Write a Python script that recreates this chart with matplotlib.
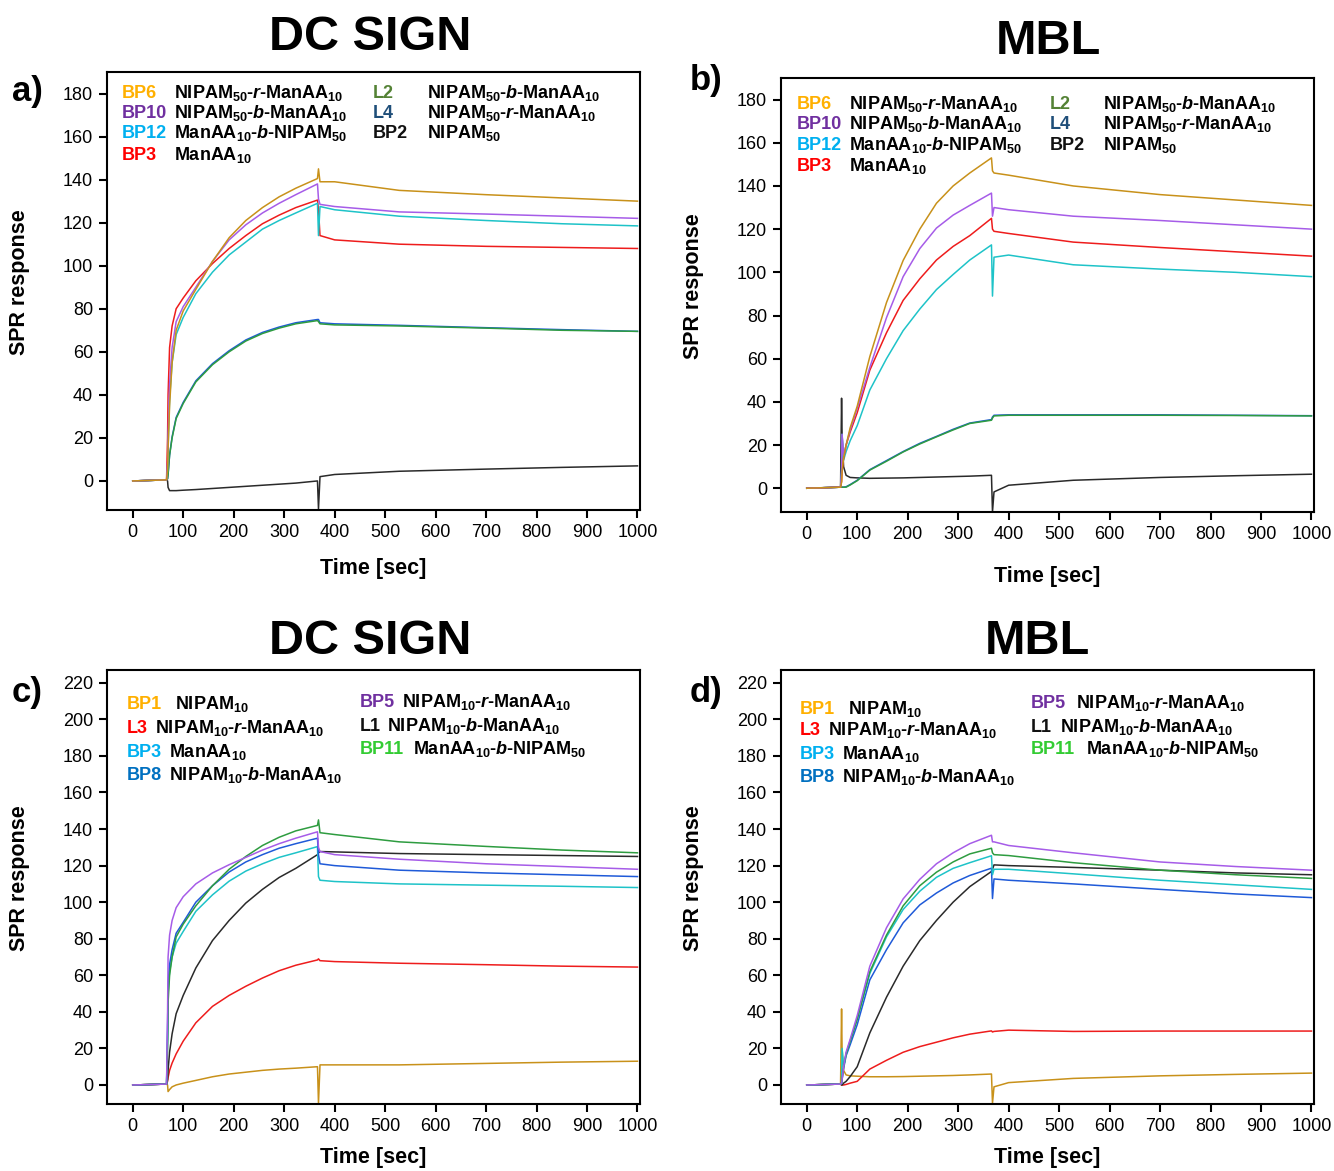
import matplotlib
matplotlib.use("Agg")
import matplotlib.pyplot as plt
from matplotlib import font_manager

# fonts: narrow face for titles / ticks if available
names = {f.name for f in font_manager.fontManager.ttflist}
narrow = 'Liberation Sans Narrow' if 'Liberation Sans Narrow' in names else 'Liberation Sans'
plt.rcParams['font.family'] = ['Liberation Sans', 'DejaVu Sans']
plt.rcParams['mathtext.fontset'] = 'custom'
plt.rcParams['mathtext.rm'] = 'Liberation Sans:bold'
plt.rcParams['mathtext.bf'] = 'Liberation Sans:bold'
plt.rcParams['mathtext.it'] = 'Liberation Sans:bold:italic'
plt.rcParams['mathtext.bfit'] = 'Liberation Sans:bold:italic'

# time axis (s), shared by all sensorgrams
t = [0, 67, 69, 70, 73, 78, 86, 100, 125, 158, 191, 224, 257, 290, 323,
     366, 368, 371, 400, 528, 700, 850, 1000]

# a) DC SIGN, 50-mers
a_BP6 = [0, 0.5, 5, 15, 35, 55, 70, 79, 89, 102, 113, 121, 127, 132, 136, 140.5, 145, 139, 139, 135, 133, 131.5, 130]
a_BP10 = [0, 0.5, 8, 20, 45, 62, 74, 81, 90, 102, 112, 119, 124.5, 129, 133, 138, 131, 128.5, 127.5, 125, 124, 123, 122]
a_BP3 = [0, 0.5, 20, 40, 62, 72, 80, 85, 93, 101, 108, 114, 119.5, 123.5, 127, 130.5, 126, 114, 112, 110, 109, 108.5, 108]
a_BP12 = [0, 0.5, 5, 15, 38, 55, 68, 76, 87, 97, 105, 111, 117, 121, 124.5, 129, 114, 127.5, 126, 123, 121, 119.5, 118.5]
a_L2 = [0, 0.5, 1, 3, 12, 20, 29, 36, 46, 54, 60, 65, 68.5, 71, 73, 74.5, 74, 73, 72.5, 72, 71, 70, 69.5]
a_L4 = [0, 0.5, 1, 3, 12, 20.5, 29.5, 36.5, 46.5, 54.5, 60.5, 65.5, 69, 71.5, 73.5, 75, 75, 73.5, 73, 72.3, 71.2, 70.3, 69.5]
a_BP2 = [0, 0.5, 0, -3, -4.5, -4.5, -4.5, -4.3, -4, -3.5, -3, -2.5, -2, -1.5, -1, 0, -13, 2, 3, 4.5, 5.5, 6.3, 7]

# b) MBL, 50-mers
b_BP6 = [0, 0.5, 3, 8, 14, 20, 28, 38, 61, 86, 105.5, 120, 132, 140, 146, 153, 147, 146, 145, 140, 136, 133.5, 131]
b_BP10 = [0, 0.5, 8, 25, 15, 20, 27, 37, 56, 79, 98, 111, 120.5, 126.5, 131, 136.7, 126, 130, 129, 126, 124, 122, 120]
b_BP3 = [0, 0.5, 3, 8, 14, 20, 26, 35, 54.7, 72, 87, 97, 105.7, 112, 117, 125, 120, 119, 118, 114, 111.5, 109.5, 107.5]
b_BP12 = [0, 0.5, 8, 25, 13, 17, 22, 29, 45.5, 60, 73, 83, 92, 99, 105.7, 112.7, 89, 107, 108, 103.5, 101.5, 100, 98]
b_L2 = [0, 0.5, 0.5, 0.5, 0.5, 0.5, 1.5, 3.5, 8.4, 12.5, 16.8, 20.5, 23.8, 27, 30, 31.5, 32.5, 33.5, 33.8, 33.8, 33.8, 33.7, 33.5]
b_L4 = [0, 0.5, 0.5, 0.5, 0.5, 0.7, 1.7, 3.7, 8.6, 12.8, 17, 20.8, 24, 27.3, 30.2, 31.8, 33, 33.8, 34, 34, 34, 33.8, 33.6]
b_BP2 = [0, 0.5, 41.7, 25, 10, 6, 5, 4.8, 4.6, 4.7, 4.8, 5, 5.2, 5.4, 5.6, 6, -11, -1.7, 1.4, 3.7, 5, 5.8, 6.5]

# c) DC SIGN, 10-mers
c_BP1 = [0, 0.5, 0, -3.6, -2.5, -1, 0, 1, 2.5, 4.5, 6, 7, 8, 8.7, 9.2, 10, -10, 11, 11, 11, 11.8, 12.5, 13]
c_L3 = [0, 0.5, 2, 4, 8, 12, 17, 24, 34, 43, 49, 54, 58.5, 62.5, 65.5, 68.4, 69, 68, 67.5, 66.6, 65.8, 65, 64.5]
c_BP3 = [0, 0.5, 25, 50, 62, 70, 77.6, 84, 95, 104, 111.5, 117, 121, 124.5, 127, 130.4, 114, 112, 111.3, 110, 109.3, 108.7, 108]
c_BP8 = [0, 0.5, 30, 55, 66, 74, 83, 89, 100, 109, 116.5, 122, 126, 129.5, 132, 135, 126, 121, 120, 117.5, 116, 115, 114]
c_BP5 = [0, 0.5, 40, 70, 82, 90, 97, 103, 110, 116, 120.5, 124.5, 128.5, 132, 135, 138.5, 130, 127.7, 126, 123.5, 121, 119.5, 118]
c_L1 = [0, 0.5, 3, 8, 18, 28, 39, 49, 64, 79, 90, 99.5, 107, 113.5, 118.5, 126, 127, 127.7, 127.5, 126.6, 126, 125.5, 125]
c_BP11 = [0, 0.5, 20, 45, 60, 70, 81, 88, 98, 109, 118, 125, 131, 135.5, 139, 142, 145, 138, 137, 133, 130.5, 128.5, 127]

# d) MBL, 10-mers
d_BP1 = [0, 0.5, 41.6, 20, 8, 5.5, 5, 4.8, 4.5, 4.5, 4.6, 4.8, 5, 5.2, 5.5, 6, -10, -1, 1.3, 3.6, 5, 5.8, 6.5]
d_L3 = [0, 0.5, 0, 0, 0, 0.3, 1, 2, 8.7, 13.5, 17.9, 21, 23.4, 25.8, 27.8, 29.6, 29, 29.3, 30, 29.3, 29.5, 29.5, 29.5]
d_BP3 = [0, 0.5, 1, 20, 10, 17, 24, 36, 61, 81, 96, 106, 113.6, 118.5, 121.6, 125.4, 115, 118, 118, 115.5, 112, 109.5, 107]
d_BP8 = [0, 0.5, 1, 3, 9, 16, 22, 33, 57.5, 74, 88.7, 98.5, 105, 110.5, 114.6, 118.6, 102, 112.7, 112, 110, 107, 104.5, 102.5]
d_BP5 = [0, 0.5, 1, 3, 10, 18, 25, 38, 65, 86, 101.8, 112.5, 121, 127, 132, 136.6, 133, 133, 131, 127, 122, 119.5, 117.5]
d_L1 = [0, 0.5, 0, 0, 1, 2, 4.6, 10, 28.5, 48, 65, 79, 90, 100, 108.5, 116.8, 118, 120.4, 120, 119, 117.5, 116, 115]
d_BP11 = [0, 0.5, 1, 3, 10, 17, 24, 36, 62, 82, 98, 109, 116.4, 122, 126.4, 129.5, 127, 126, 125.5, 121.6, 117.5, 115, 113]

# legend labels
top_codes = ['BP6', 'BP10', 'BP12', 'BP3', 'L2', 'L4', 'BP2']
top_names = [r'NIPAM$_{50}$-$\mathit{r}$-ManAA$_{10}$', r'NIPAM$_{50}$-$\mathit{b}$-ManAA$_{10}$',
             r'ManAA$_{10}$-$\mathit{b}$-NIPAM$_{50}$', r'ManAA$_{10}$',
             r'NIPAM$_{50}$-$\mathit{b}$-ManAA$_{10}$', r'NIPAM$_{50}$-$\mathit{r}$-ManAA$_{10}$',
             r'NIPAM$_{50}$']
bot_codes = ['BP1', 'L3', 'BP3', 'BP8', 'BP5', 'L1', 'BP11']
bot_names = [r'NIPAM$_{10}$', r'NIPAM$_{10}$-$\mathit{r}$-ManAA$_{10}$', r'ManAA$_{10}$',
             r'NIPAM$_{10}$-$\mathit{b}$-ManAA$_{10}$', r'NIPAM$_{10}$-$\mathit{r}$-ManAA$_{10}$',
             r'NIPAM$_{10}$-$\mathit{b}$-ManAA$_{10}$', r'ManAA$_{10}$-$\mathit{b}$-NIPAM$_{50}$']

# label colours (legend) and line colours
top_label_colors = ['#FFB000', '#7030A0', '#00B0F0', '#FF0000', '#548235', '#1F4E79', '#111111']
bot_label_colors = ['#FFB000', '#FF0000', '#00B0F0', '#0070C0', '#7030A0', '#111111', '#33CC33']
GOLD, PURPLE, RED, CYAN, GREEN, BLUE, BLACK = ('#C8911A', '#A65CE8', '#EE1C1C', '#1EC3C8',
                                                '#2E9C40', '#1F5AD8', '#2A2A2A')

W, H = 1334, 1171
fig = plt.figure(figsize=(W / 100, H / 100), dpi=100)


def px(x, y):
    return x / W, 1 - y / H


panels = [
    # (rect in px: left, top, right, bottom), ylim, yticks max, curves
    ((107, 72, 640, 510), (-13.5, 190), 180,
     [(a_BP2, BLACK), (a_L4, BLUE), (a_L2, GREEN), (a_BP3, RED), (a_BP12, CYAN), (a_BP10, PURPLE), (a_BP6, GOLD)]),
    ((781, 78, 1314, 512), (-11, 190), 180,
     [(b_BP2, BLACK), (b_L4, BLUE), (b_L2, GREEN), (b_BP12, CYAN), (b_BP3, RED), (b_BP10, PURPLE), (b_BP6, GOLD)]),
    ((107, 670, 640, 1104), (-10.4, 227), 220,
     [(c_BP1, GOLD), (c_L3, RED), (c_L1, BLACK), (c_BP3, CYAN), (c_BP8, BLUE), (c_BP11, GREEN), (c_BP5, PURPLE)]),
    ((781, 670, 1314, 1104), (-10.4, 227), 220,
     [(d_BP1, GOLD), (d_L3, RED), (d_L1, BLACK), (d_BP8, BLUE), (d_BP3, CYAN), (d_BP11, GREEN), (d_BP5, PURPLE)]),
]

axes = []
for (l, tp, r, b), ylim, ymax, curves in panels:
    x0, y1 = px(l, tp)
    x1, y0 = px(r, b)
    ax = fig.add_axes([x0, y0, x1 - x0, y1 - y0])
    for vals, col in curves:
        ax.plot(t, vals, color=col, lw=1.1)
    ax.set_xlim(-51, 1005)
    ax.set_ylim(*ylim)
    ax.set_xticks(range(0, 1001, 100))
    ax.set_yticks(range(0, ymax + 1, 20))
    for lab in ax.get_xticklabels() + ax.get_yticklabels():
        lab.set_fontfamily(narrow)
        lab.set_fontsize(13)
    ax.tick_params(direction='out', length=6, width=1.5, pad=4)
    for s in ax.spines.values():
        s.set_linewidth(1.5)
    ax.set_ylabel('SPR response', fontsize=15.5, fontweight='bold')
    ax.set_xlabel('Time [sec]', fontsize=15.5, fontweight='bold')
    axes.append(ax)

for ax in axes:
    ax.yaxis.set_label_coords(-0.145, 0.52)
axes[0].xaxis.set_label_coords(0.5, -0.11)
axes[1].xaxis.set_label_coords(0.5, -0.125)
axes[2].xaxis.set_label_coords(0.5, -0.1)
axes[3].xaxis.set_label_coords(0.5, -0.1)

# titles and panel letters
for txt, x, y in [('DC SIGN', 370, 50), ('MBL', 1048, 54), ('DC SIGN', 370, 654), ('MBL', 1037, 654)]:
    fig.text(*px(x, y), txt, ha='center', va='baseline', fontsize=35, fontweight='bold', family=narrow)
for txt, x, y in [('a)', 27, 101), ('b)', 706, 90), ('c)', 27, 702), ('d)', 706, 702)]:
    fig.text(*px(x, y), txt, ha='center', va='baseline', fontsize=25, fontweight='bold', family=narrow)

# legend text placement (px): code x, name x, baseline y
top_a = [(122, 174, 98), (122, 174, 118), (122, 174, 138), (122, 174, 160),
         (373, 427, 98), (373, 427, 118), (373, 427, 138)]
top_b = [(797, 849, 109), (797, 849, 129), (797, 849, 150), (797, 849, 171),
         (1050, 1103, 109), (1050, 1103, 129), (1050, 1103, 150)]
bot_c = [(127, 175, 709), (127, 155, 733), (127, 169, 757), (127, 169, 780),
         (360, 402, 707), (360, 387, 731), (360, 413, 754)]
bot_d = [(800, 848, 714), (800, 828, 735), (800, 842, 759), (800, 842, 782),
         (1031, 1076, 708), (1031, 1060, 732), (1031, 1086, 754)]

for codes, nms, cols, pos in [(top_codes, top_names, top_label_colors, top_a),
                              (top_codes, top_names, top_label_colors, top_b),
                              (bot_codes, bot_names, bot_label_colors, bot_c),
                              (bot_codes, bot_names, bot_label_colors, bot_d)]:
    for code, nm, col, (cx, nx, by) in zip(codes, nms, cols, pos):
        fig.text(*px(cx, by), code, color=col, fontsize=13, fontweight='bold', va='baseline')
        fig.text(*px(nx, by), nm, color='black', fontsize=13, fontweight='bold', va='baseline')

fig.savefig('out.png', dpi=100)
